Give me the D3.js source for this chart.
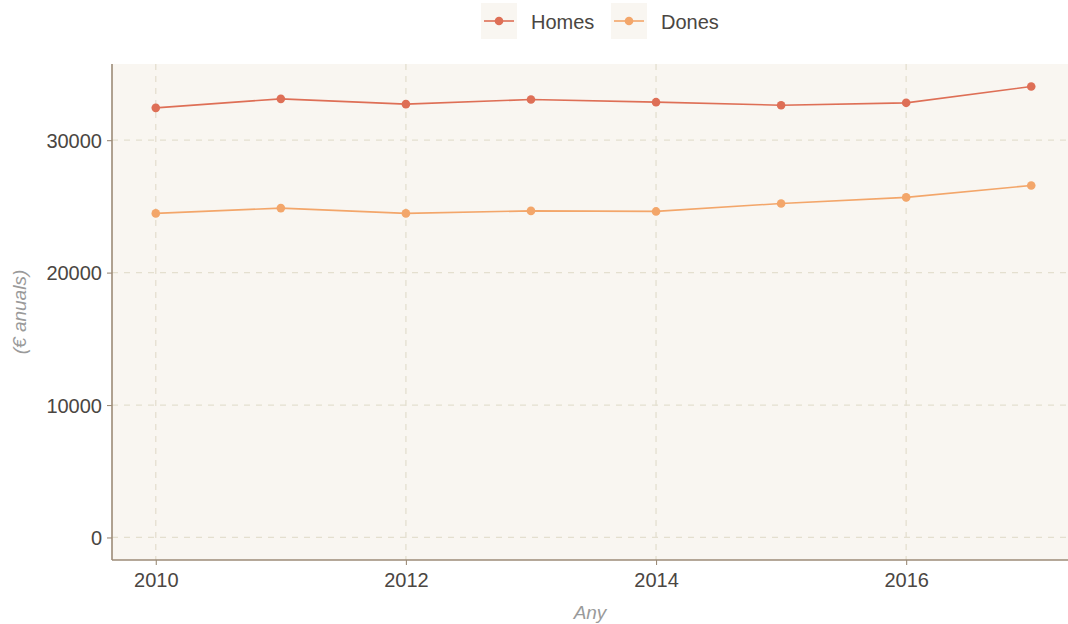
<!DOCTYPE html>
<html>
<head>
<meta charset="utf-8">
<script src="https://cdn.jsdelivr.net/npm/d3@7"></script>
<style>
  html, body { margin: 0; padding: 0; background: #ffffff; }
  svg { display: block; font-family: "Liberation Sans", Arial, sans-serif; }
</style>
</head>
<body>
<svg id="chart" width="1068" height="624"></svg>
<script>
const years = [2010, 2011, 2012, 2013, 2014, 2015, 2016, 2017];
const homes = [32440, 33120, 32720, 33070, 32870, 32640, 32820, 34050];
const dones = [24470, 24870, 24470, 24660, 24620, 25220, 25680, 26580];
const seriesNames = ["Homes", "Dones"];
const seriesColors = ["#de6f56", "#f3a66a"];
const xTicks = [2010, 2012, 2014, 2016];
const yTicks = [0, 10000, 20000, 30000];

const W = 1068, H = 624;
const panel = { left: 112, right: 1075, top: 64, bottom: 560 };
const svg = d3.select("#chart");

const x = d3.scaleLinear().domain([2009.65, 2017.35]).range([panel.left, panel.right]);
const y = d3.scaleLinear().domain([-1702, 35752]).range([panel.bottom, panel.top]);

// panel background
svg.append("rect")
  .attr("x", panel.left).attr("y", panel.top)
  .attr("width", panel.right - panel.left).attr("height", panel.bottom - panel.top)
  .attr("fill", "#f9f6f1");

// grid
const grid = svg.append("g");
grid.selectAll(".gx").data(xTicks).enter().append("line")
  .attr("x1", d => x(d)).attr("x2", d => x(d))
  .attr("y1", panel.top).attr("y2", panel.bottom)
  .attr("stroke", "#e4dfcf").attr("stroke-width", 1.3).attr("stroke-dasharray", "6,6");
grid.selectAll(".gy").data(yTicks).enter().append("line")
  .attr("x1", panel.left).attr("x2", panel.right)
  .attr("y1", d => y(d)).attr("y2", d => y(d))
  .attr("stroke", "#e4dfcf").attr("stroke-width", 1.3).attr("stroke-dasharray", "6,6");

// axes
const axisColor = "#9c8b77";
const xAxis = svg.append("g").attr("transform", `translate(0,${panel.bottom})`)
  .call(d3.axisBottom(x).tickValues(xTicks).tickFormat(d3.format("d")).tickSize(5).tickSizeOuter(0).tickPadding(8));
const yAxis = svg.append("g").attr("transform", `translate(${panel.left},0)`)
  .call(d3.axisLeft(y).tickValues(yTicks).tickFormat(d3.format("d")).tickSize(5).tickSizeOuter(0).tickPadding(5));
[xAxis, yAxis].forEach(a => {
  a.select(".domain").attr("stroke", axisColor).attr("stroke-width", 1.6);
  a.selectAll(".tick line").attr("stroke", axisColor).attr("stroke-width", 1.1);
  a.selectAll(".tick text").attr("fill", "#4a4642").style("font-size", "20px")
    .style("font-family", "'Liberation Sans', Arial, sans-serif");
});
yAxis.select(".domain").attr("d", `M0,${panel.top}V${panel.bottom}`);
xAxis.select(".domain").attr("d", `M${panel.left},0H${panel.right}`);
yAxis.selectAll(".tick text").attr("dy", "0.36em");

// axis titles
svg.append("text").attr("x", (panel.left + 1068) / 2).attr("y", 619)
  .attr("text-anchor", "middle").attr("fill", "#9a9a9a")
  .style("font-size", "19px").style("font-style", "italic").text("Any");
svg.append("text").attr("transform", `translate(26,${(panel.top + panel.bottom) / 2}) rotate(-90)`)
  .attr("text-anchor", "middle").attr("fill", "#9a9a9a")
  .style("font-size", "19px").style("font-style", "italic").text("(€ anuals)");

// lines
const data = [homes, dones];
const line = d3.line().x((d, i) => x(years[i])).y(d => y(d));
data.forEach((vals, s) => {
  svg.append("path").attr("d", line(vals)).attr("fill", "none")
    .attr("stroke", seriesColors[s]).attr("stroke-width", 1.6);
  svg.selectAll(null).data(vals).enter().append("circle")
    .attr("cx", (d, i) => x(years[i])).attr("cy", d => y(d)).attr("r", 4.3)
    .attr("fill", seriesColors[s]);
});

// legend
const legendItems = [{ name: seriesNames[0], color: seriesColors[0], kx: 481, tx: 531 },
                     { name: seriesNames[1], color: seriesColors[1], kx: 611, tx: 661 }];
const lg = svg.append("g");
legendItems.forEach(it => {
  lg.append("rect").attr("x", it.kx).attr("y", 3).attr("width", 36).attr("height", 36).attr("fill", "#f9f6f1");
  lg.append("line").attr("x1", it.kx + 3).attr("x2", it.kx + 33).attr("y1", 21).attr("y2", 21)
    .attr("stroke", it.color).attr("stroke-width", 1.6);
  lg.append("circle").attr("cx", it.kx + 18).attr("cy", 21).attr("r", 4.3).attr("fill", it.color);
  lg.append("text").attr("x", it.tx).attr("y", 22).attr("dy", "0.36em").attr("fill", "#4a4642")
    .style("font-size", "20px").text(it.name);
});
</script>
</body>
</html>
